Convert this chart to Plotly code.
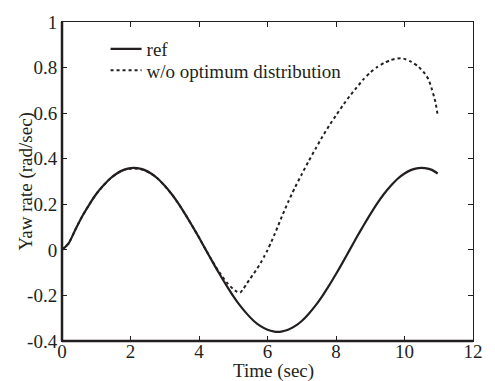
import plotly.graph_objects as go

# Time samples (sec)
t_ref = [0.0, 0.2, 0.4, 0.6, 0.8, 1.0, 1.2, 1.4, 1.6, 1.8, 2.0, 2.1, 2.2, 2.4, 2.6, 2.8,
         3.0, 3.2, 3.4, 3.6, 3.8, 4.0, 4.2, 4.4, 4.6, 4.8, 5.0, 5.2, 5.4, 5.6, 5.8,
         6.0, 6.2, 6.3, 6.4, 6.6, 6.8, 7.0, 7.2, 7.4, 7.6, 7.8, 8.0, 8.2, 8.4, 8.6,
         8.8, 9.0, 9.2, 9.4, 9.6, 9.8, 10.0, 10.2, 10.4, 10.5, 10.6, 10.8, 10.97]
yaw_ref = [0.000, 0.030, 0.092, 0.150, 0.200, 0.245, 0.281, 0.312, 0.335, 0.351, 0.359, 0.360,
           0.359, 0.351, 0.335, 0.312, 0.281, 0.245, 0.203, 0.156, 0.106, 0.054, 0.000,
           -0.054, -0.106, -0.156, -0.203, -0.245, -0.281, -0.312, -0.335, -0.351, -0.359,
           -0.360, -0.359, -0.351, -0.335, -0.312, -0.281, -0.245, -0.203, -0.156, -0.106,
           -0.054, 0.000, 0.054, 0.106, 0.156, 0.203, 0.245, 0.281, 0.312, 0.335, 0.351,
           0.359, 0.360, 0.359, 0.351, 0.335]

t_wo = [0.0, 0.2, 0.4, 0.6, 0.8, 1.0, 1.2, 1.4, 1.6, 1.8, 2.0, 2.1, 2.2, 2.4, 2.6, 2.8,
        3.0, 3.2, 3.4, 3.6, 3.8, 4.0, 4.2, 4.4, 4.6, 4.8, 5.0, 5.1, 5.2, 5.3, 5.4, 5.5,
        5.6, 5.7, 5.8, 5.9, 6.0, 6.1, 6.2, 6.3, 6.4, 6.5, 6.6, 6.7, 6.8, 7.0, 7.2, 7.4,
        7.6, 7.8, 8.0, 8.2, 8.4, 8.6, 8.8, 9.0, 9.2, 9.4, 9.6, 9.8, 9.9, 10.0, 10.2,
        10.4, 10.6, 10.7, 10.8, 10.9, 10.97]
yaw_wo = [0.000, 0.030, 0.092, 0.150, 0.200, 0.245, 0.281, 0.312, 0.335, 0.350, 0.356, 0.357,
          0.356, 0.350, 0.335, 0.312, 0.281, 0.245, 0.203, 0.156, 0.106, 0.054, 0.000,
          -0.052, -0.100, -0.142, -0.172, -0.183, -0.188, -0.170, -0.147, -0.125,
          -0.104, -0.082, -0.057, -0.030, -0.001, 0.031, 0.066, 0.102, 0.139, 0.175,
          0.209, 0.242, 0.273, 0.332, 0.389, 0.443, 0.496, 0.545, 0.590, 0.634, 0.675,
          0.712, 0.748, 0.778, 0.802, 0.820, 0.833, 0.840, 0.841, 0.838, 0.825, 0.805,
          0.772, 0.748, 0.705, 0.650, 0.590]

x_ticks = [0, 2, 4, 6, 8, 10, 12]
y_ticks = [-0.4, -0.2, 0, 0.2, 0.4, 0.6, 0.8, 1]
y_tick_text = ["-0.4", "-0.2", "0", "0.2", "0.4", "0.6", "0.8", "1"]

FONT = "Liberation Serif, Times New Roman, serif"
INK = "#231f20"
FS = 19

fig = go.Figure()
fig.add_trace(go.Scatter(x=t_ref, y=yaw_ref, mode="lines", name="ref", legend="legend",
                         line=dict(color=INK, width=2.2, shape="spline", smoothing=0.6)))
fig.add_trace(go.Scatter(x=t_wo, y=yaw_wo, mode="lines", name="w/o optimum distribution",
                         legend="legend2",
                         line=dict(color=INK, width=2, dash="dot", shape="spline", smoothing=0.6)))

leg_common = dict(xanchor="left", yanchor="middle", bgcolor="rgba(0,0,0,0)", borderwidth=0,
                  font=dict(family=FONT, size=FS, color=INK), itemwidth=31)

fig.update_layout(
    width=495, height=381,
    margin=dict(l=62, r=16, t=13, b=40),
    paper_bgcolor="white", plot_bgcolor="white",
    font=dict(family=FONT, size=FS, color=INK),
    showlegend=True,
    legend=dict(x=0.106, y=0.915, **leg_common),
    legend2=dict(x=0.106, y=0.848, **leg_common),
    xaxis=dict(range=[0, 12], tickvals=x_ticks, ticks="inside", ticklen=5,
               tickcolor=INK, showline=True, linecolor=INK, linewidth=1,
               mirror="ticks", showgrid=False, zeroline=False, ticklabelstandoff=-7,
               tickfont=dict(family=FONT, size=FS, color=INK)),
    yaxis=dict(range=[-0.4, 1], tickvals=y_ticks, ticktext=y_tick_text,
               ticks="inside", ticklen=5, ticklabelstandoff=0,
               tickcolor=INK, showline=True, linecolor=INK, linewidth=1,
               mirror="ticks", showgrid=False, zeroline=False,
               tickfont=dict(family=FONT, size=FS, color=INK)),
    shapes=[
        dict(type="line", xref="paper", yref="paper", x0=0, x1=0, y0=0, y1=1,
             line=dict(color=INK, width=2.5)),
        dict(type="line", xref="paper", yref="paper", x0=0, x1=1, y0=0, y1=0,
             line=dict(color=INK, width=2.5)),
    ],
    annotations=[
        dict(text="Time (sec)", xref="paper", yref="paper", x=0.515, y=0,
             yshift=-30, xanchor="center", yanchor="middle", showarrow=False,
             font=dict(family=FONT, size=FS, color=INK)),
        dict(text="Yaw rate (rad/sec)", xref="paper", yref="paper", x=0, y=0.5,
             xshift=-37, xanchor="center", yanchor="middle", textangle=-90,
             showarrow=False, font=dict(family=FONT, size=FS, color=INK)),
    ],
)

fig.write_html("out.html")
